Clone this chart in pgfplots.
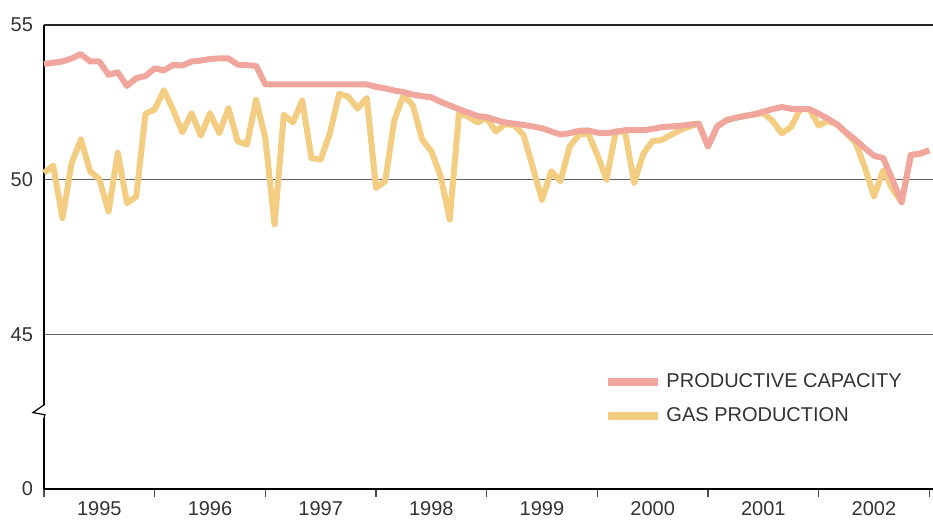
\documentclass[border=0pt]{standalone}
\usepackage{pgfplots}
\pgfplotsset{compat=1.18}
\usepackage{fontspec}
\setmainfont{Liberation Sans}
\definecolor{capc}{RGB}{240,166,156}
\definecolor{prodc}{RGB}{242,205,130}
\definecolor{txt}{RGB}{51,51,51}
\begin{document}
\begin{tikzpicture}
\path[use as bounding box] (0,0) rectangle (466.5pt,260pt);
\begin{axis}[
  at={(22pt,15.5pt)}, anchor=south west,
  scale only axis, width=444.5pt, height=232pt,
  xmin=0, xmax=96.4, ymin=40, ymax=55,
  axis lines=left, axis line style={-, black, line width=1pt},
  clip=false,
  font=\fontsize{10pt}{12pt}\selectfont,
  /pgf/number format/assume math mode=true,
  tick label style={text=txt},
  x tick label as interval,
  xtick={0,12,...,96},
  xticklabels={1995,1996,1997,1998,1999,2000,2001,2002},
  xtick align=outside,
  major tick length=4pt,
  x tick style={draw=black!70, line width=0.6pt},
  xticklabel style={yshift=1.5pt},
  ytick={40,45,50,55},
  yticklabels={0,45,50,55},
  y tick style={draw=none},
  yticklabel style={xshift=0pt},
  ymajorgrids,
  grid style={black!62, line width=0.7pt},
  reverse legend,
  legend style={at={(0.63,0.258)}, anchor=north west, draw=none, fill=none,
    font=\fontsize{10pt}{12pt}\selectfont, text=txt, row sep=4.5pt, inner sep=0pt},
  legend cell align=left,
  legend image code/.code={\draw[#1, line width=4pt] (0pt,0pt) -- (25pt,0pt);},
]
\addplot[prodc, line width=3pt, line join=round] coordinates {
(0,50.22) (1,50.45) (2,48.76) (3,50.54) (4,51.30) (5,50.27) (6,50.02) (7,48.97) (8,50.87) (9,49.24)
(10,49.45) (11,52.13) (12,52.27) (13,52.89) (14,52.26) (15,51.53) (16,52.15) (17,51.42) (18,52.15) (19,51.50)
(20,52.31) (21,51.24) (22,51.13) (23,52.58) (24,51.34) (25,48.55) (26,52.10) (27,51.85) (28,52.56) (29,50.70)
(30,50.65) (31,51.50) (32,52.77) (33,52.68) (34,52.30) (35,52.64) (36,49.73) (37,49.95) (38,51.94) (39,52.74)
(40,52.40) (41,51.30) (42,50.92) (43,50.12) (44,48.71) (45,52.15) (46,52.04) (47,51.85) (48,51.99) (49,51.56)
(50,51.80) (51,51.75) (52,51.45) (53,50.40) (54,49.35) (55,50.27) (56,49.95) (57,51.07) (58,51.45) (59,51.50)
(60,50.80) (61,50.00) (62,51.56) (63,51.55) (64,49.90) (65,50.85) (66,51.25) (67,51.28) (68,51.45) (69,51.60)
(70,51.72) (71,51.81) (72,51.07) (73,51.72) (74,51.92) (75,52.00) (76,52.06) (77,52.11) (78,52.15) (79,51.90)
(80,51.50) (81,51.70) (82,52.28) (83,52.28) (84,51.75) (85,51.90) (86,51.78) (87,51.50) (88,51.20) (89,50.40)
(90,49.46) (91,50.30) (92,49.70) (93,49.27) (94,50.80) (95,50.84) (96,50.95)
};
\addlegendentry{GAS PRODUCTION}
\addplot[capc, line width=3pt, line join=round] coordinates {
(0,53.74) (1,53.78) (2,53.82) (3,53.92) (4,54.06) (5,53.82) (6,53.82) (7,53.39) (8,53.47) (9,53.03)
(10,53.28) (11,53.35) (12,53.60) (13,53.53) (14,53.71) (15,53.69) (16,53.82) (17,53.85) (18,53.90) (19,53.92)
(20,53.92) (21,53.72) (22,53.70) (23,53.68) (24,53.08) (25,53.08) (26,53.08) (27,53.08) (28,53.08) (29,53.08)
(30,53.08) (31,53.08) (32,53.08) (33,53.08) (34,53.08) (35,53.08) (36,53.00) (37,52.95) (38,52.88) (39,52.83)
(40,52.75) (41,52.70) (42,52.66) (43,52.52) (44,52.40) (45,52.28) (46,52.17) (47,52.06) (48,52.02) (49,51.93)
(50,51.85) (51,51.81) (52,51.77) (53,51.72) (54,51.66) (55,51.56) (56,51.46) (57,51.50) (58,51.58) (59,51.59)
(60,51.52) (61,51.50) (62,51.55) (63,51.60) (64,51.60) (65,51.60) (66,51.64) (67,51.70) (68,51.72) (69,51.74)
(70,51.78) (71,51.81) (72,51.07) (73,51.72) (74,51.92) (75,52.00) (76,52.06) (77,52.11) (78,52.20) (79,52.28)
(80,52.35) (81,52.29) (82,52.28) (83,52.28) (84,52.13) (85,51.97) (86,51.79) (87,51.52) (88,51.29) (89,51.02)
(90,50.77) (91,50.70) (92,50.00) (93,49.27) (94,50.80) (95,50.84) (96,50.95)
};
\addlegendentry{PRODUCTIVE CAPACITY}
% top frame line
\draw[black!85, line width=1pt] (axis cs:0,55) -- (axis cs:96.4,55);
% axis break
\fill[white] (axis cs:-0.6,42.30) rectangle (axis cs:0.6,42.72);
\draw[black, line width=0.6pt] (axis cs:0,42.72) -- (axis cs:-1.2,42.47) -- (axis cs:0.1,42.40) -- (axis cs:0,42.30);
\end{axis}
\end{tikzpicture}
\end{document}
